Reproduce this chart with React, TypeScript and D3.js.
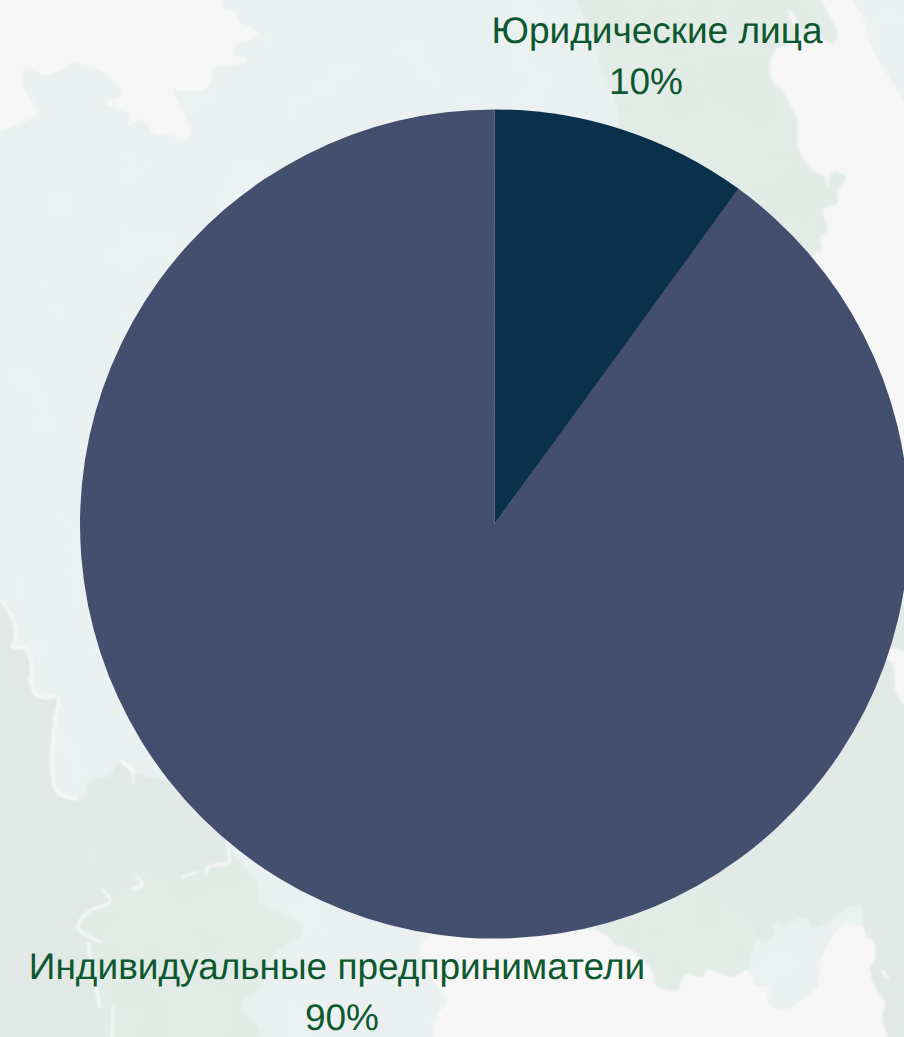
import React from "react";
import * as d3 from "d3";

const categories = ["Юридические лица", "Индивидуальные предприниматели"];
const shares = [10, 90];
const shareLabels = ["10%", "90%"];
const sliceColors = ["#0a304b", "#444f6f"];
const nameCenters = [657, 337];
const shareCenters = [646, 342];
const nameBaselines = [43, 979];
const shareBaselines = [94, 1030];

type Pt = [number, number];

const whiteTopLeft: Pt[] = [[-19,-19],[220,-19],[225,10],[233,9],[240,22],[250,27],[258,32],[250,40],[240,42],[232,55],[247,58],[245,63],[235,65],[215,68],[207,88],[178,90],[172,87],[190,130],[188,138],[180,142],[172,135],[155,135],[143,120],[128,125],[130,115],[105,103],[122,95],[108,75],[85,65],[75,63],[60,70],[45,75],[25,68],[23,85],[37,113],[15,125],[0,130],[-19,130]];
const greenTop: Pt[] = [[578,-19],[585,20],[600,50],[598,60],[617,107],[625,180],[813,255],[822,250],[820,237],[828,230],[823,210],[838,203],[837,192],[846,177],[833,172],[827,187],[825,177],[812,170],[798,147],[797,120],[783,92],[773,83],[770,67],[775,50],[790,44],[805,35],[822,38],[833,45],[837,33],[817,-19]];
const whiteRight: Pt[] = [[817,-19],[923,-19],[923,480],[840,300],[813,255],[822,250],[820,237],[828,230],[823,210],[838,203],[837,192],[846,177],[833,172],[827,187],[825,177],[812,170],[798,147],[797,120],[783,92],[773,83],[770,67],[775,50],[790,44],[805,35],[822,38],[833,45],[837,33]];
const paleRightBand: Pt[] = [[848,-19],[867,27],[870,43],[883,67],[897,90],[923,125],[923,23],[890,-19]];
const whiteSliver: Pt[] = [[788,10],[792,12],[800,30],[795,27]];
const whiteRightLow: Pt[] = [[890,648],[923,668],[923,717],[897,695],[893,665],[887,658]];

const darkLeft: Pt[] = [[-19,602],[2,602],[13,620],[15,640],[12,647],[25,648],[32,670],[30,680],[37,695],[45,698],[58,697],[55,720],[52,760],[57,792],[77,799],[87,792],[87,782],[110,775],[118,762],[132,772],[190,790],[227,843],[228,862],[207,867],[197,873],[180,878],[163,875],[137,877],[142,885],[133,889],[103,890],[110,902],[88,912],[78,928],[100,942],[88,943],[100,1007],[113,1008],[112,1056],[-19,1056]];
const greenBottomLeft: Pt[] = [[227,843],[233,853],[257,883],[260,903],[287,915],[300,925],[300,937],[277,950],[258,990],[243,1000],[242,1010],[257,1027],[263,1056],[112,1056],[113,1008],[100,1007],[88,943],[100,942],[78,928],[88,912],[110,902],[103,890],[133,889],[142,885],[137,877],[163,875],[180,878],[197,873],[207,867],[228,862]];
const whiteLine: Pt[] = [[2,602],[13,620],[15,640],[12,647],[25,648],[32,670],[30,680],[37,695],[45,698],[58,697],[55,720],[52,760],[57,792],[77,799]];
const whiteLine2: Pt[] = [[227,843],[228,862],[207,867],[207,872]];
const whiteLine3: Pt[] = [[197,872],[183,877]];
const whiteLine4: Pt[] = [[137,877],[142,885],[133,889]];
const whiteLine5: Pt[] = [[103,890],[110,902],[88,912],[78,928],[100,942]];
const whiteLine6: Pt[] = [[88,943],[100,1007]];
const whiteLine7: Pt[] = [[113,1008],[112,1056]];
const whiteHook: Pt[] = [[122,762],[132,770],[133,783]];

const whiteBottom: Pt[] = [[437,1056],[438,1015],[447,1000],[440,990],[422,957],[420,950],[428,937],[480,930],[593,930],[610,938],[615,945],[628,948],[653,973],[655,985],[677,990],[685,975],[703,977],[708,970],[732,977],[748,970],[755,985],[768,988],[768,1003],[783,1010],[797,1003],[818,985],[820,963],[825,950],[843,925],[863,927],[867,938],[873,940],[875,960],[870,967],[875,987],[885,1003],[882,1017],[887,1056]];
const greenBottomRight: Pt[] = [[593,930],[640,900],[708,883],[720,900],[742,913],[752,925],[758,937],[752,950],[750,970],[732,977],[708,970],[703,977],[685,975],[677,990],[655,985],[653,973],[628,948],[615,945],[610,938]];
const darkRight: Pt[] = [[708,860],[923,600],[923,1056],[887,1056],[882,1017],[885,1003],[875,987],[870,967],[875,960],[873,940],[867,938],[863,927],[862,907],[843,910],[833,920],[813,927],[805,918],[783,925],[772,922],[773,935],[763,942],[758,937],[752,925],[742,913],[720,900],[708,883]];
const paleLowRight: Pt[] = [[750,970],[752,950],[758,940],[763,942],[773,935],[772,922],[783,925],[805,918],[813,927],[833,920],[843,910],[862,907],[850,922],[843,925],[825,950],[820,963],[818,985],[797,1003],[783,1010],[768,1003],[768,988],[755,985]];
const whiteSliver2: Pt[] = [[881,969],[884,970],[889,979],[886,979]];

const WHITE = "#f6f6f6";
const PALE = "#e9f0ef";
const GREEN = "#e1ebe5";
const DARK = "#e1e8e5";

const patches: [Pt[], string][] = [
  [darkLeft, DARK],
  [greenBottomLeft, GREEN],
  [darkRight, DARK],
  [greenBottomRight, GREEN],
  [paleLowRight, PALE],
  [whiteBottom, WHITE],
  [greenTop, GREEN],
  [whiteRight, WHITE],
  [paleRightBand, PALE],
  [whiteTopLeft, WHITE],
  [whiteSliver, WHITE],
  [whiteRightLow, WHITE],
  [whiteSliver2, WHITE],
];
const outlines: Pt[][] = [whiteLine, whiteLine2, whiteLine3, whiteLine4, whiteLine5, whiteLine6, whiteLine7, whiteHook];

export default function App() {
  const width = 904;
  const height = 1037;
  const cx = 494.6;
  const cy = 524;
  const radius = 414.6;
  const pieGen = d3.pie<number>().sort(null).startAngle(0).endAngle(2 * Math.PI);
  const arcGen = d3.arc<d3.PieArcDatum<number>>().innerRadius(0).outerRadius(radius);
  const slices = pieGen(shares);
  const patchLine = d3.line().curve(d3.curveCatmullRomClosed.alpha(0.5));
  const strokeLine = d3.line().curve(d3.curveCatmullRom.alpha(0.5));
  const font = "'Liberation Sans', Arial, sans-serif";
  // the larger slice is tucked under the smaller one so no seam shows between them
  const drawOrder = [1, 0];
  return (
    <svg
      width={width}
      height={height}
      viewBox={`0 0 ${width} ${height}`}
      style={{ position: "absolute", left: 0, top: 0, display: "block" }}
    >
      <defs>
        <filter id="soft" x="-5%" y="-5%" width="110%" height="110%">
          <feGaussianBlur stdDeviation="0.9" />
        </filter>
        <filter id="cloud" x="0" y="0" width="100%" height="100%">
          <feTurbulence type="fractalNoise" baseFrequency="0.018" numOctaves="3" seed="4" />
          <feColorMatrix type="matrix" values="0 0 0 0 1  0 0 0 0 1  0 0 0 0 1  0.5 0 0 0 -0.12" />
        </filter>
      </defs>
      <rect width={width} height={height} fill={PALE} />
      <g filter="url(#soft)">
        {patches.map(([pts, fill], i) => (
          <path key={i} d={patchLine(pts) ?? ""} fill={fill} />
        ))}
      </g>
      <g filter="url(#soft)" opacity={0.85}>
        {outlines.map((pts, i) => (
          <path key={i} d={strokeLine(pts) ?? ""} fill="none" stroke="#fbfbfb" strokeWidth={2.8} strokeLinecap="round" />
        ))}
      </g>
      <rect width={width} height={height} filter="url(#cloud)" opacity={0.3} />
      <g transform={`translate(${cx},${cy})`}>
        {drawOrder.map((i) => {
          const s = slices[i];
          const start = i === 1 ? s.startAngle - 0.004 : s.startAngle;
          return <path key={i} d={arcGen({ ...s, startAngle: start }) ?? ""} fill={sliceColors[i]} />;
        })}
      </g>
      {categories.map((name, i) => (
        <g key={name} fontFamily={font} fontSize={37} fill="#0e5830" textAnchor="middle" textRendering="geometricPrecision">
          <text x={nameCenters[i]} y={nameBaselines[i]}>{name}</text>
          <text x={shareCenters[i]} y={shareBaselines[i]}>{shareLabels[i]}</text>
        </g>
      ))}
    </svg>
  );
}
